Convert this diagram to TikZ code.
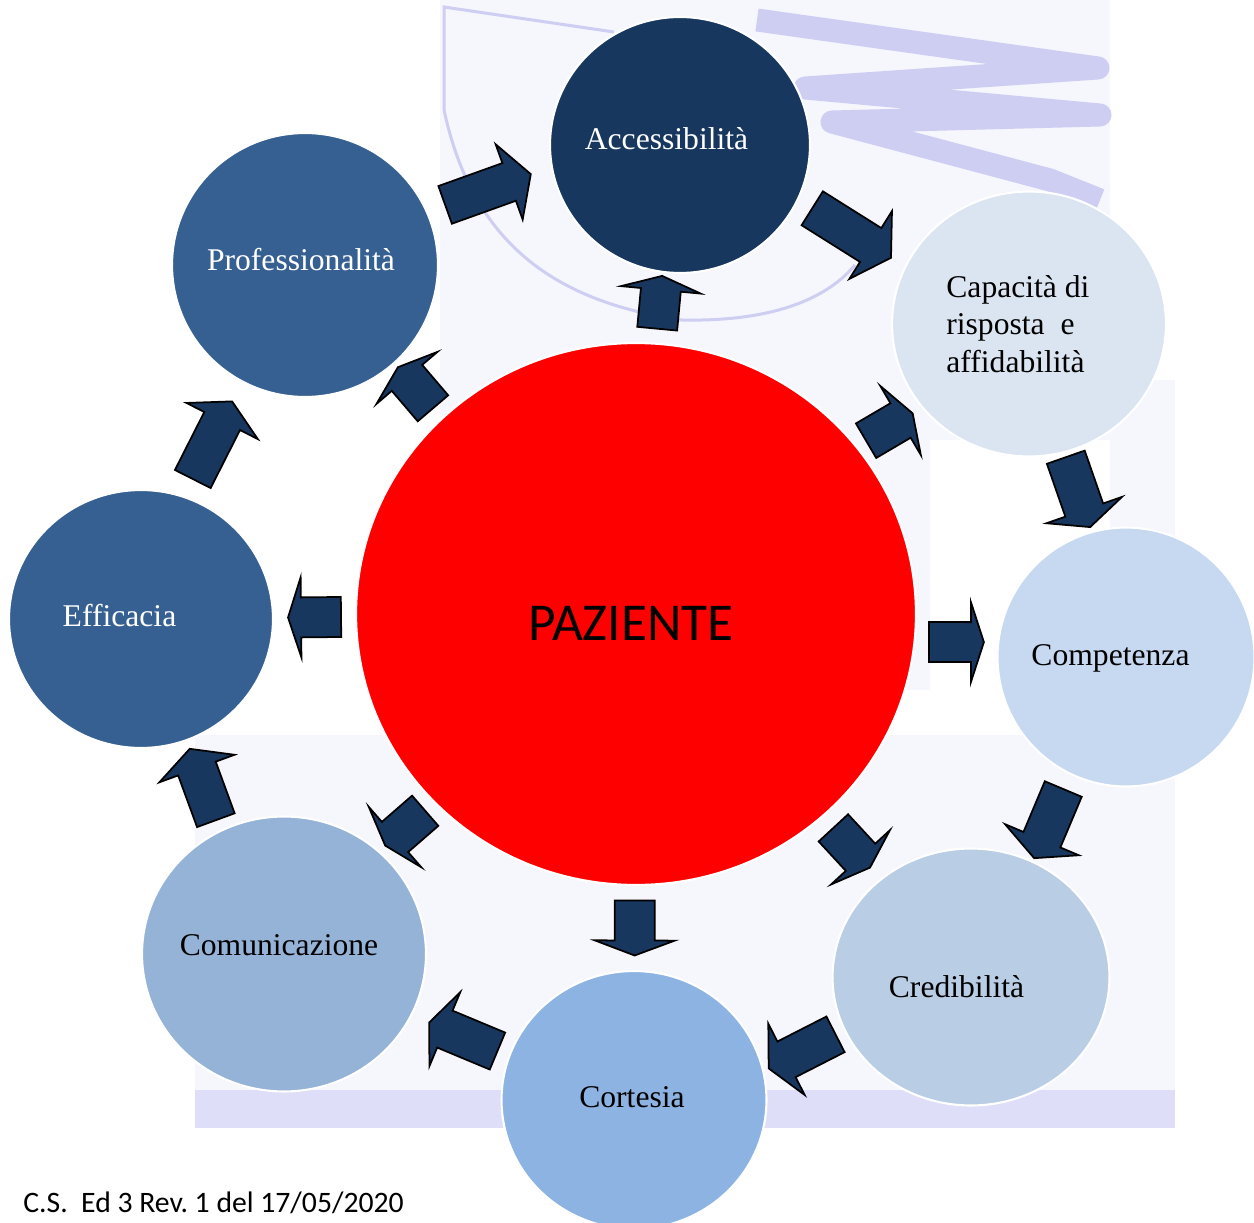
\documentclass[tikz,border=0pt]{standalone}
\usepackage{fontspec}
\setmainfont{Liberation Serif}
\newfontfamily\calibri{Carlito}
\usepackage{tikz}
\usetikzlibrary{shapes.geometric,calc}
\definecolor{navy-arrow}{RGB}{23,55,94}
\definecolor{dark-blue}{RGB}{24,55,94}
\definecolor{mid-blue}{RGB}{55,96,146}
\definecolor{pale-blue}{RGB}{219,229,241}
\definecolor{light-blue}{RGB}{198,217,240}
\definecolor{soft-blue}{RGB}{185,205,229}
\definecolor{sky-blue}{RGB}{141,179,226}
\definecolor{grey-blue}{RGB}{149,179,215}
\definecolor{wm-pale}{RGB}{246,246,253}
\definecolor{wm-lilac}{RGB}{206,206,243}
\definecolor{wm-band}{RGB}{222,222,248}
\tikzstyle{bubble}=[ellipse, draw=white, line width=1.2pt, inner sep=0pt]
\tikzstyle{bubbletext}=[inner sep=0pt, anchor=base, font=\fontsize{18}{21.3}\selectfont]
\tikzstyle{blockarrow}=[fill=navy-arrow, draw=black, line width=1pt]
\frenchspacing
% block arrow halfway between two bubbles: [tweaks]{from}{to}{shaft}{head}
\newcommand{\blockArrow}[5][]{
	\pgfmathanglebetweenpoints{\pgfpointanchor{#2}{center}}{\pgfpointanchor{#3}{center}}
	\let\arrowAngle\pgfmathresult
	\path (#2) -- (#3) coordinate[pos=0.5] (AAmid);
	\pgfmathsetmacro{\arrowA}{-(#4+#5)/2}
	\pgfmathsetmacro{\arrowB}{\arrowA+#4}
	\pgfmathsetmacro{\arrowC}{\arrowB+#5}
	\draw[blockarrow, shift={(AAmid)}, #1, rotate=\arrowAngle] (\arrowA,-20) -- (\arrowB,-20) -- (\arrowB,-40) -- (\arrowC,0) -- (\arrowB,40) -- (\arrowB,20) -- (\arrowA,20) -- cycle;
}

\begin{document}
\begin{tikzpicture}[x=0.02cm, y=-0.02cm]
	\useasboundingbox (0,0) rectangle (1254,1223);
	\clip (0,0) rectangle (1254,1223);
	% faded background
	\fill[wm-pale] (440,0) rectangle (1110,440);
	\fill[wm-pale] (440,440) rectangle (930,690);
	\fill[wm-pale] (1110,380) rectangle (1175,860);
	\fill[wm-pale] (195,735) rectangle (1175,1128);
	\fill[wm-band] (195,1090) rectangle (1175,1128);
	\draw[wm-lilac, line width=0.46cm, line join=round] (757,20) -- (1098,68) -- (805,88) -- (1100,115) -- (832,122) -- (1050,180) -- (1100,200);
	\draw[wm-lilac, line width=0.06cm] (614,32) -- (444,7) -- (444,110) .. controls (470,230) and (540,300) .. (682,320) .. controls (780,322) and (830,295) .. (855,265);
	% bubbles
	\node[bubble, fill=red, minimum width=11.2cm, minimum height=10.84cm] (paz) at (636,614) {};
	\node[bubble, fill=dark-blue, minimum width=5.2cm, minimum height=5.12cm] (acc) at (680,145) {};
	\node[bubble, fill=pale-blue, minimum width=5.48cm, minimum height=5.3cm] (cap) at (1029,324) {};
	\node[bubble, fill=light-blue, minimum width=5.14cm, minimum height=5.18cm] (comp) at (1126,657) {};
	\node[bubble, fill=soft-blue, minimum width=5.54cm, minimum height=5.14cm] (cred) at (971,977) {};
	\node[bubble, fill=sky-blue, minimum width=5.3cm, minimum height=5.16cm] (cort) at (634,1100) {};
	\node[bubble, fill=grey-blue, minimum width=5.68cm, minimum height=5.5cm] (com) at (284,954) {};
	\node[bubble, fill=mid-blue, minimum width=5.28cm, minimum height=5.16cm] (eff) at (141,619) {};
	\node[bubble, fill=mid-blue, minimum width=5.32cm, minimum height=5.28cm] (prof) at (305,265) {};
	% texts
	\node[inner sep=0pt, anchor=base, font=\calibri\fontsize{30.3}{36}\selectfont] (paz-t) at ([shift={(-5,26)}]paz.center) {PAZIENTE};
	\node[bubbletext, text=white] (acc-t) at ([shift={(-13.5,5)}]acc.center) {Accessibilità};
	\node[bubbletext, anchor=west, align=left] (cap-t) at ([shift={(-83,0)}]cap.center) {Capacità di\\risposta\ \ e\\affidabilità};
	\node[bubbletext] (comp-t) at ([shift={(-15.5,8)}]comp.center) {Competenza};
	\node[bubbletext] (cred-t) at ([shift={(-14.5,20)}]cred.center) {Credibilità};
	\node[bubbletext] (cort-t) at ([shift={(-2,7)}]cort.center) {Cortesia};
	\node[bubbletext] (com-t) at ([shift={(-5,1)}]com.center) {Comunicazione};
	\node[bubbletext, text=white] (eff-t) at ([shift={(-21.5,7)}]eff.center) {Efficacia};
	\node[bubbletext, text=white] (prof-t) at ([shift={(-4,6)}]prof.center) {Professionalità};
	% arrows round the ring
	\blockArrow[shift={(-6,-15)}, rotate=2]{prof}{acc}{68}{23}
	\blockArrow[rotate=-5]{acc}{cap}{69}{24}
	\blockArrow[rotate=3]{cap}{comp}{56}{18}
	\blockArrow[shift={(0,7)}, rotate=3]{comp}{cred}{55}{20}
	\blockArrow[shift={(2,12)}, rotate=7]{cred}{cort}{55}{20}
	\blockArrow[shift={(0,8)}]{cort}{com}{57}{17}
	\blockArrow[shift={(-8,2)}, rotate=-3]{com}{eff}{55}{21}
	\blockArrow[shift={(-10,-3)}, rotate=-2]{eff}{prof}{65}{22}
	% arrows out of the centre
	\blockArrow[shift={(-5,-6)}]{paz}{acc}{39}{14}
	\blockArrow[rotate=-6]{paz}{cap}{40}{14}
	\blockArrow[rotate=5]{paz}{comp}{42}{13}
	\blockArrow{paz}{cred}{40}{14}
	\blockArrow{paz}{cort}{40}{15}
	\blockArrow[shift={(-6,-3)}, rotate=-3]{paz}{com}{40}{13}
	\blockArrow{paz}{eff}{40}{13}
	\blockArrow[shift={(-6,0)}, rotate=-3]{paz}{prof}{40}{14}
	\node[inner sep=0pt, anchor=base west, font=\calibri\fontsize{16.9}{20}\selectfont] (foot) at (23,1212) {C.S.\ \ Ed 3 Rev. 1 del 17/05/2020};
\end{tikzpicture}
\end{document}
